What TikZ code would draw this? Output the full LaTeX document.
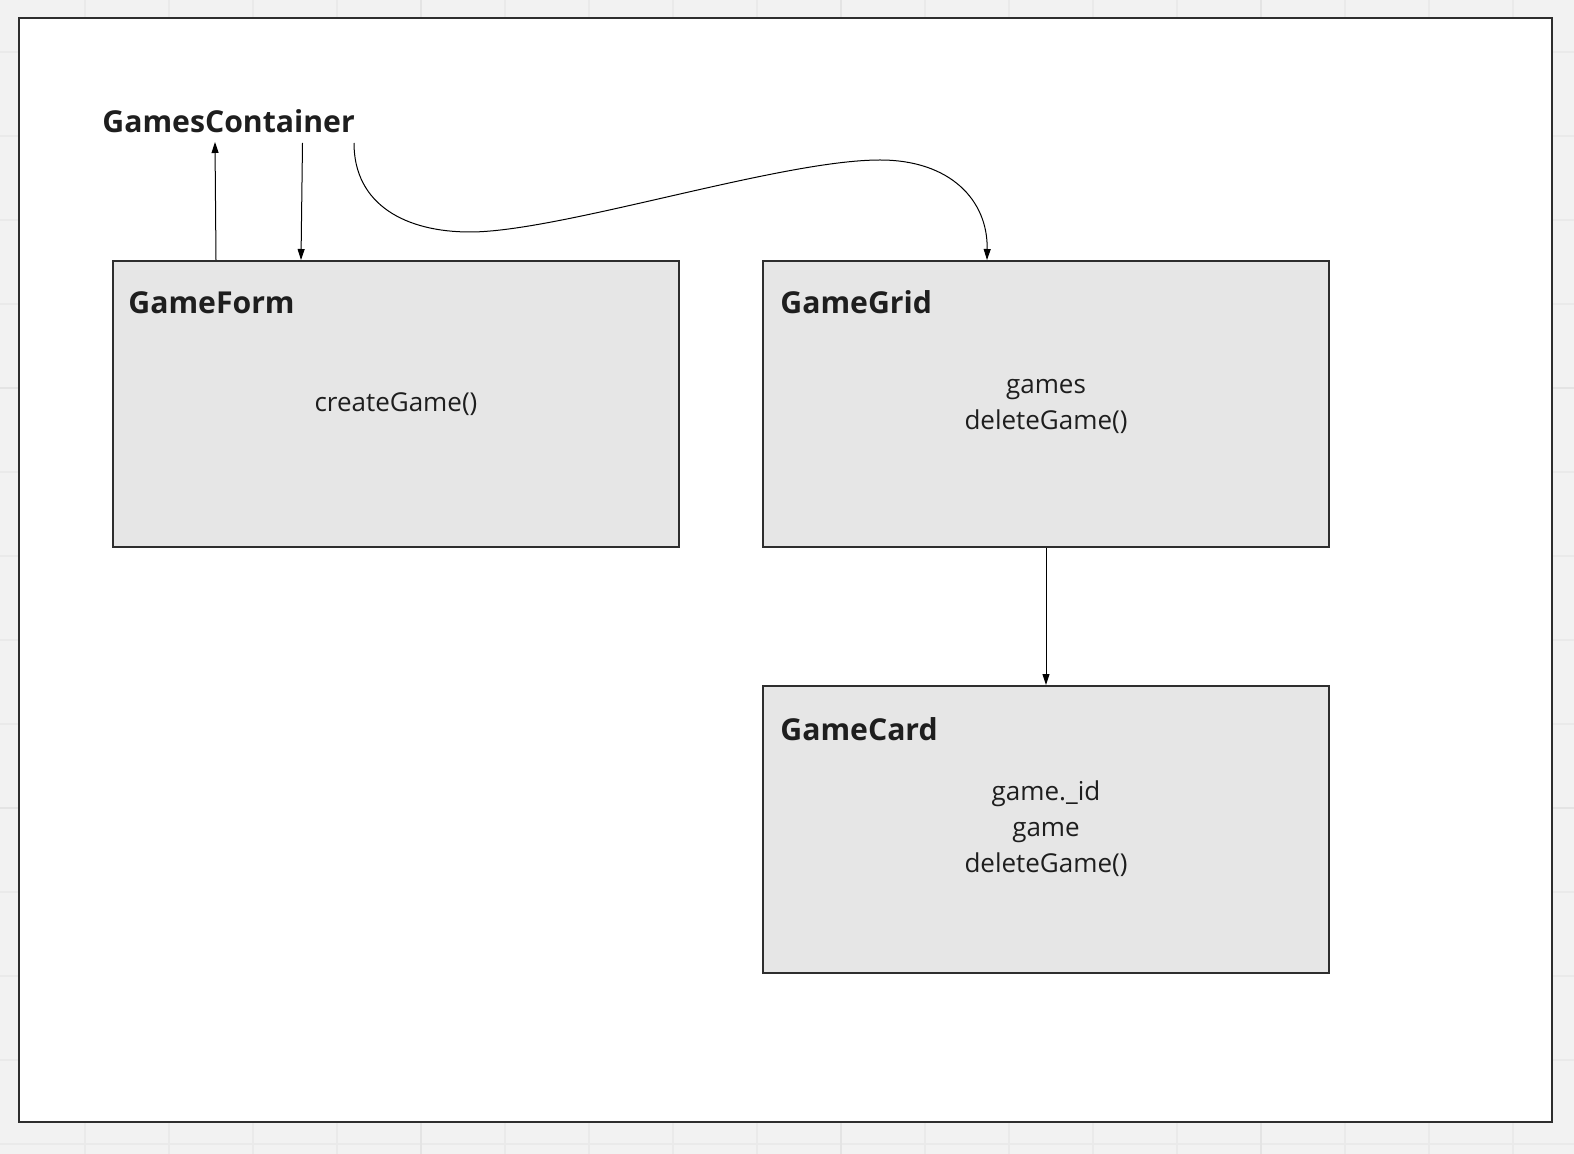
\documentclass[tikz,border=0pt]{standalone}
\usepackage{fontspec}
\setmainfont{Open Sans}
\usetikzlibrary{arrows.meta}
\definecolor{bgc}{HTML}{F2F2F2}
\definecolor{gridminor}{HTML}{EAEAEA}
\definecolor{gridmajor}{HTML}{E4E4E4}
\definecolor{framec}{HTML}{2E2E2E}
\definecolor{boxfill}{HTML}{E6E6E6}
\definecolor{txt}{HTML}{1E1E1E}
\tikzset{
  compbox/.style={draw=framec, line width=1pt, fill=boxfill, minimum width=283pt, minimum height=143pt, inner sep=0pt},
  headtxt/.style={font=\fontsize{15.1}{18}\selectfont\bfseries, text=txt, anchor=base west, inner sep=0pt},
  bodytxt/.style={font=\fontsize{13}{18}\selectfont, text=txt, align=center, inner sep=0pt},
  arr/.style={draw=black, line width=0.5pt, -{Triangle[length=5.5pt,width=3.5pt]}},
}
\begin{document}
\begin{tikzpicture}[x=0.5pt,y=-0.5pt]
\useasboundingbox (0,0) rectangle (1574,1154);
\fill[bgc] (0,0) rectangle (1574,1154);
\foreach \i in {0,...,17} \draw[gridminor, line width=1pt] ({85+84*\i},0) -- ({85+84*\i},1154);
\foreach \i in {0,...,13} \draw[gridminor, line width=1pt] (0,{52+84*\i}) -- (1574,{52+84*\i});
\foreach \i in {4,9,14} \draw[gridmajor, line width=1pt] ({85+84*\i},0) -- ({85+84*\i},1154);
\foreach \i in {4,9} \draw[gridmajor, line width=1pt] (0,{52+84*\i}) -- (1574,{52+84*\i});
\draw[draw=framec, line width=1pt, fill=white] (19,18) rectangle (1552,1122);

\node[headtxt] (gc) at (102,133) {GamesContainer};

\node[compbox] (gf) at (396,404) {};
\node[compbox] (gg) at (1046,404) {};
\node[compbox, minimum height=143.5pt] (gcard) at (1046,829.5) {};

\node[headtxt] (gfh) at (128,314) {GameForm};
\node[headtxt] (ggh) at (780,314) {GameGrid};
\node[headtxt] (gcardh) at (780,740) {GameCard};

\node[bodytxt] (gft) at (396,404) {createGame()};
\node[bodytxt] (ggt) at (1046,406) {games\\deleteGame()};
\node[bodytxt] (gcardt) at (1046,829) {game.\_id\\game\\deleteGame()};

\coordinate (u1) at (215,142);
\coordinate (d1) at (302.5,143);
\coordinate (c0) at (354,143);

\draw[arr] ([xshift=52pt]gf.north west) -- (u1);
\draw[arr] (d1) -- ([xshift=94.5pt]gf.north west);
\draw[arr] (c0) .. controls (354,205) and (406,232) .. (470,232)
  .. controls (560,232) and (780,160) .. (880,160)
  .. controls (950,160) and (988,200) .. ([xshift=112.5pt]gg.north west);
\draw[arr] (gg.south) -- (gcard.north);
\end{tikzpicture}
\end{document}
